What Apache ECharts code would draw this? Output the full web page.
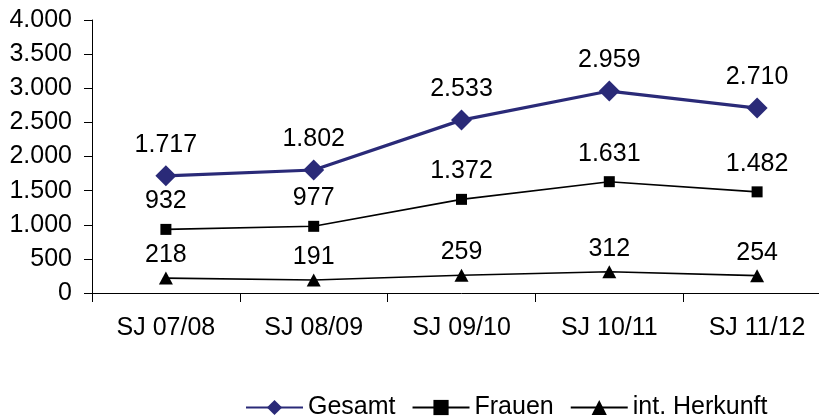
<!DOCTYPE html>
<html><head><meta charset="utf-8">
<script src="https://cdn.jsdelivr.net/npm/echarts@6/dist/echarts.min.js"></script>
<style>html,body{margin:0;padding:0;background:#fff;overflow:hidden;width:819px;height:417px}#c{width:831px;height:417px}</style>
</head><body><div id="c"></div>
<script>
const categories = ['SJ 07/08','SJ 08/09','SJ 09/10','SJ 10/11','SJ 11/12'];
const gesamt = [1717, 1802, 2533, 2959, 2710];
const frauen = [932, 977, 1372, 1631, 1482];
const herkunft = [218, 191, 259, 312, 254];
const seriesNames = ['Gesamt', 'Frauen', 'int. Herkunft'];

function fmt(v){
  const s = String(Math.round(v));
  return s.replace(/\B(?=(\d{3})+(?!\d))/g, '.');
}
const FONT = 'Liberation Sans, Arial, sans-serif';
const FS = 25;
const chart = echarts.init(document.getElementById('c'), null, {renderer:'canvas'});
const lbl = (d) => ({show:true, position:'top', distance:d, color:'#000', fontFamily:FONT, fontSize:FS, formatter:p=>fmt(p.value)});
chart.setOption({
  animation:false,
  backgroundColor:'#fff',
  grid:{left:92, top:20, right:0, bottom:124, containLabel:false},
  legend:{
    left:240, top:390, itemWidth:57, itemHeight:19, itemGap:16,
    textStyle:{fontFamily:FONT, fontSize:FS, color:'#000'},
    data:seriesNames
  },
  xAxis:{
    type:'category', data:categories, boundaryGap:true,
    axisLine:{lineStyle:{color:'#000', width:1}},
    axisTick:{show:true, length:9, lineStyle:{color:'#000'}},
    axisLabel:{color:'#000', fontFamily:FONT, fontSize:FS, margin:23}
  },
  yAxis:{
    type:'value', min:0, max:4000, interval:500,
    axisLine:{show:true, lineStyle:{color:'#000', width:1}},
    axisTick:{show:true, length:8, lineStyle:{color:'#000'}},
    splitLine:{show:false},
    axisLabel:{color:'#000', fontFamily:FONT, fontSize:FS, margin:20, formatter:fmt}
  },
  series:[
    {name:seriesNames[0], type:'line', data:gesamt, symbol:'diamond', symbolSize:21,
     itemStyle:{color:'#2A2A78'}, lineStyle:{color:'#2A2A78', width:3.2}, label:lbl(8), z:3},
    {name:seriesNames[1], type:'line', data:frauen, symbol:'rect', symbolSize:11,
     itemStyle:{color:'#000'}, lineStyle:{color:'#000', width:1.6}, label:lbl(10), z:2},
    {name:seriesNames[2], type:'line', data:herkunft, symbol:'triangle', symbolSize:[14,13],
     itemStyle:{color:'#000'}, lineStyle:{color:'#000', width:1.6}, label:lbl(4), z:2}
  ]
});
</script></body></html>
